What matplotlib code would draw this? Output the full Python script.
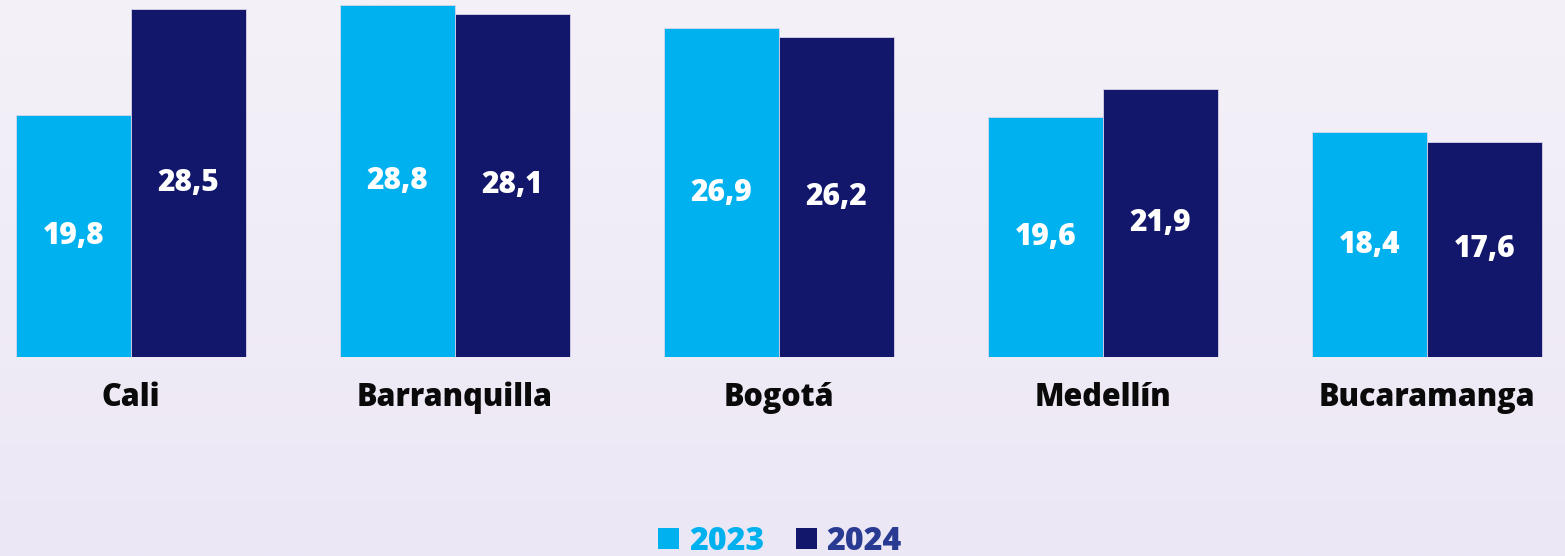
import matplotlib
matplotlib.use("Agg")
import matplotlib.pyplot as plt
import numpy as np
from matplotlib.patches import Patch

categories = ["Cali", "Barranquilla", "Bogotá", "Medellín", "Bucaramanga"]
values_2023 = [19.8, 28.8, 26.9, 19.6, 18.4]
values_2024 = [28.5, 28.1, 26.2, 21.9, 17.6]
series_labels = ["2023", "2024"]

c2023 = "#00b1ef"
c2024 = "#13176b"
c2024_text = "#283a92"

W, H = 1565, 556
fig = plt.figure(figsize=(W / 100, H / 100), dpi=100)

# background gradient
bg = fig.add_axes([0, 0, 1, 1], zorder=-10)
top = np.array([0xf4, 0xf1, 0xf8]) / 255
bot = np.array([0xec, 0xe7, 0xf5]) / 255
t = np.linspace(0, 1, 256)[:, None]
grad = top[None, :] * (1 - t) + bot[None, :] * t
bg.imshow(grad[:, None, :], aspect="auto", extent=[0, 1, 0, 1])
bg.axis("off")

base_px = 357
ax = fig.add_axes([0, (H - base_px) / H, 1, base_px / H])
ax.set_facecolor("none")
x = np.arange(len(categories))
w = 115 / 324
b1 = ax.bar(x - w / 2, values_2023, w, color=c2023, edgecolor="#d9d4ea", linewidth=0.6)
b2 = ax.bar(x + w / 2, values_2024, w, color=c2024, edgecolor="#d9d4ea", linewidth=0.6)
ax.set_xlim(-131 / 324, (W - 131) / 324)
ax.set_ylim(0, base_px / 12.22)
ax.axis("off")

font = "Open Sans"
for bars, vals in ((b1, values_2023), (b2, values_2024)):
    for r, v in zip(bars, vals):
        ax.text(r.get_x() + r.get_width() / 2, v / 2, f"{v:.1f}".replace(".", ","),
                ha="center", va="center", color="white", fontsize=21.5,
                fontweight="heavy", family=font)

for xi, c in zip(x, categories):
    ax.text(xi, -41 / 12.22, c, ha="center", va="center", color="#0a0a0a",
            fontsize=22, fontweight="heavy", family=font)

handles = [Patch(facecolor=c2023), Patch(facecolor=c2024)]
leg = fig.legend(handles, series_labels, loc="center",
                 bbox_to_anchor=(780 / W, 1 - 542 / H), ncol=2, frameon=False,
                 handlelength=0.65, handleheight=0.65, handletextpad=0.3,
                 columnspacing=1.0, labelcolor=[c2023, c2024_text],
                 prop={"family": font, "weight": "heavy", "size": 23})

fig.savefig("out.png", dpi=100)
